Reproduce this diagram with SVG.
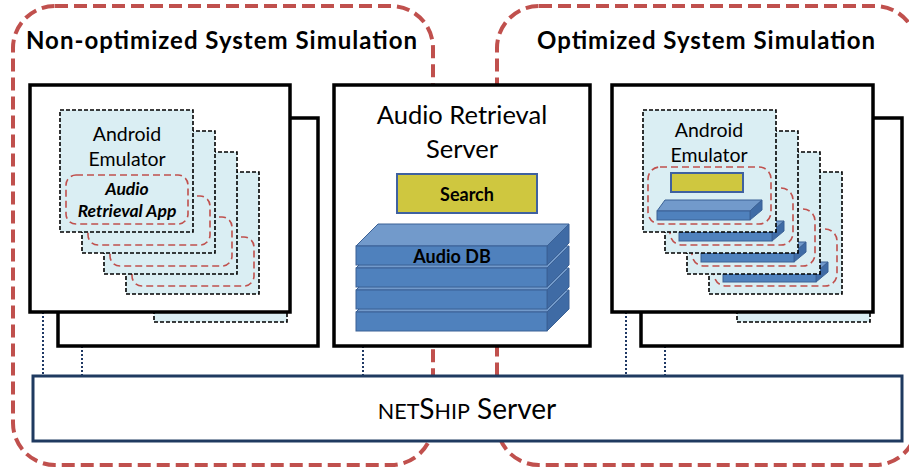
<svg xmlns="http://www.w3.org/2000/svg" width="909" height="470" viewBox="0 0 909 470">
<style>
  .region { fill: none; stroke: #C0504D; stroke-width: 4; stroke-dasharray: 13 6; }
  .host { fill: #fff; stroke: #000; stroke-width: 3.5; }
  .card { fill: #DAEEF3; stroke: #000; stroke-width: 1.6; stroke-dasharray: 4 2; }
  .app { fill: none; stroke: #C0504D; stroke-width: 1.6; stroke-dasharray: 7 4; }
  .link { fill: none; stroke: #1F3864; stroke-width: 2; stroke-dasharray: 2 2; }
  .title { font-family: Lato, "Liberation Sans", sans-serif; font-weight: bold; font-size: 24px; fill: #000; }
  .label { font-family: Lato, "Liberation Sans", sans-serif; font-size: 19.5px; fill: #000; text-anchor: middle; }
  .big { font-size: 25.5px; }
  .small { font-size: 17.5px; font-style: italic; }
  .bold { font-weight: bold; }
  .mid { font-size: 18px; }
  .search { fill: #CFC73F; stroke: #3F61A0; stroke-width: 2; }
  .dbfront { fill: #4F81BD; stroke: #3B6195; stroke-width: 1; }
  .dbtop { fill: #729ACB; stroke: #3B6195; stroke-width: 1; }
  .dbside { fill: #3F6BA5; stroke: #3B6195; stroke-width: 1; }
</style>
<defs>
  <!-- emulator card running the full app -->
  <g id="emuFull">
    <rect class="card" x="0" y="0" width="133" height="122"/>
    <rect class="app" x="6" y="65" width="122" height="49" rx="10"/>
  </g>
  <!-- emulator card with search + local DB slice -->
  <g id="emuOpt">
    <rect class="card" x="0" y="0" width="133" height="122"/>
    <rect class="app" x="5" y="57" width="123" height="57" rx="12"/>
    <rect class="search" x="28" y="63" width="72" height="19" stroke-width="1.5"/>
    <polygon class="dbtop" points="14,101 22,90 119,90 107,101"/>
    <polygon class="dbside" points="107,101 119,90 119,100 107,110"/>
    <rect class="dbfront" x="14" y="101" width="93" height="9"/>
  </g>
  <!-- one slab of the audio database -->
  <g id="slab">
    <polygon class="dbtop" points="0,0 22,-22 213,-22 191,0"/>
    <polygon class="dbside" points="191,0 213,-22 213,-3 191,19"/>
    <rect class="dbfront" x="0" y="0" width="191" height="19"/>
  </g>
</defs>

<!-- simulation scopes -->
<rect class="region" x="13" y="6" width="420" height="459" rx="42"/>
<rect class="region" x="497" y="6" width="420" height="459" rx="42"/>
<text class="title" x="26" y="49" textLength="391">Non-optimized System Simulation</text>
<text class="title" x="537" y="49" textLength="338">Optimized System Simulation</text>

<!-- connectors to the NetShip server -->
<g id="connectors">
  <line class="link" x1="43" y1="312" x2="43" y2="376"/>
  <line class="link" x1="82" y1="346" x2="82" y2="376"/>
  <line class="link" x1="363" y1="346" x2="363" y2="376"/>
  <line class="link" x1="626" y1="312" x2="626" y2="376"/>
  <line class="link" x1="665" y1="346" x2="665" y2="376"/>
</g>

<!-- non-optimized hosts -->
<g id="host-left">
  <rect class="host" x="58" y="118" width="260" height="228"/>
  <rect class="card" x="154" y="200" width="133" height="122"/>
  <rect class="host" x="30" y="85" width="260" height="227"/>
  <use href="#emuFull" x="126" y="172"/>
  <use href="#emuFull" x="104" y="152"/>
  <use href="#emuFull" x="82" y="131"/>
  <use href="#emuFull" x="60" y="110"/>
  <text class="label" x="127" y="141">Android</text>
  <text class="label" x="127" y="166">Emulator</text>
  <text class="label bold small" x="127" y="195">Audio</text>
  <text class="label bold small" x="127" y="217">Retrieval App</text>
</g>

<!-- audio retrieval server -->
<g id="server">
  <rect class="host" x="334" y="85" width="256" height="261"/>
  <text class="label big" x="462" y="124">Audio Retrieval</text>
  <text class="label big" x="462" y="158">Server</text>
  <rect class="search" x="397" y="174" width="140" height="39"/>
  <text class="label bold mid" x="467" y="201">Search</text>
  <use href="#slab" x="356" y="312"/>
  <use href="#slab" x="356" y="290"/>
  <use href="#slab" x="356" y="268"/>
  <use href="#slab" x="356" y="246"/>
  <text class="label bold mid" x="452" y="263">Audio DB</text>
</g>

<!-- optimized hosts -->
<g id="host-right">
  <rect class="host" x="641" y="118" width="261" height="228"/>
  <rect class="card" x="737" y="200" width="133" height="122"/>
  <rect class="host" x="612" y="85" width="261" height="227"/>
  <use href="#emuOpt" x="709" y="172"/>
  <use href="#emuOpt" x="687" y="152"/>
  <use href="#emuOpt" x="665" y="131"/>
  <use href="#emuOpt" x="643" y="110"/>
  <text class="label" x="709" y="137">Android</text>
  <text class="label" x="709" y="162">Emulator</text>
</g>

<!-- NetShip server -->
<g id="netship">
  <rect x="33" y="376" width="869" height="65" fill="#fff" stroke="#1F3A60" stroke-width="3"/>
  <text x="467" y="419" text-anchor="middle" font-family="Lato, 'Liberation Sans', sans-serif" font-size="28" fill="#000"><tspan font-size="21.5">NET</tspan>S<tspan font-size="21.5">HIP</tspan> Server</text>
</g>
</svg>
